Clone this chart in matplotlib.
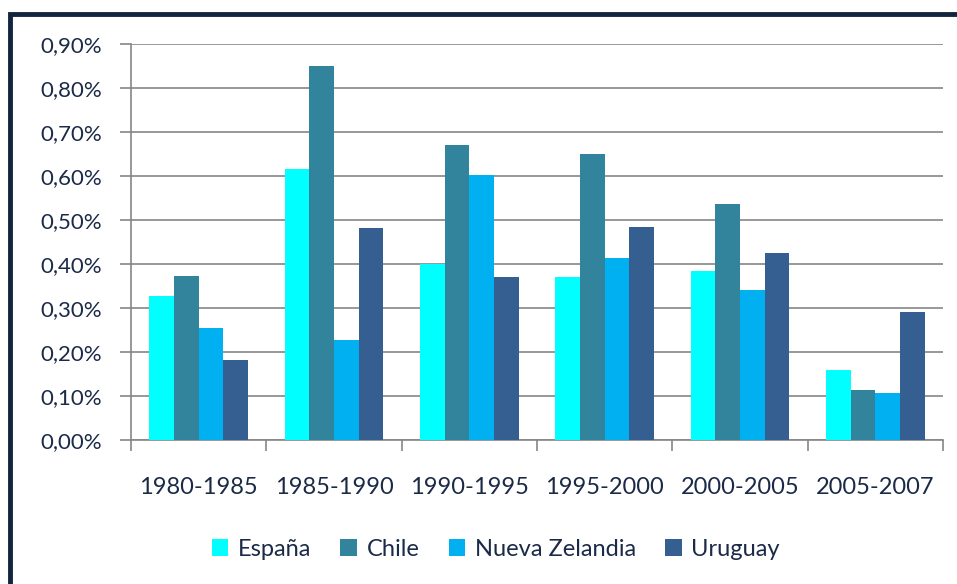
import numpy as np
import matplotlib.pyplot as plt
from matplotlib.patches import Rectangle
from matplotlib.ticker import FuncFormatter

periods = ['1980-1985', '1985-1990', '1990-1995', '1995-2000', '2000-2005', '2005-2007']
espana = [0.327, 0.617, 0.400, 0.370, 0.385, 0.160]
chile = [0.373, 0.850, 0.670, 0.650, 0.537, 0.113]
nueva_zelandia = [0.255, 0.228, 0.603, 0.413, 0.342, 0.107]
uruguay = [0.182, 0.482, 0.370, 0.485, 0.425, 0.290]

series = [('España', espana, '#00FFFF'),
          ('Chile', chile, '#31849B'),
          ('Nueva Zelandia', nueva_zelandia, '#00B0F0'),
          ('Uruguay', uruguay, '#365F91')]

txt = '#1B2A47'
grid = '#868686'
plt.rcParams['font.family'] = ['Lato', 'DejaVu Sans']

fig = plt.figure(figsize=(9.57, 5.84), dpi=100)
W, H = 957, 584
ax = fig.add_axes([131 / W, 1 - 440 / H, (943 - 131) / W, (440 - 44) / H])

x = np.arange(len(periods))
bw = 0.182
for i, (name, vals, col) in enumerate(series):
    ax.bar(x + (i - 1.5) * bw, vals, bw, color=col, label=name, zorder=3)

ax.set_xlim(-0.5, len(periods) - 0.5)
ax.set_ylim(0, 0.9)
ax.set_yticks(np.arange(0, 0.91, 0.1))
ax.yaxis.set_major_formatter(FuncFormatter(lambda v, p: f'{v:.2f}%'.replace('.', ',')))
ax.yaxis.grid(True, color=grid, linewidth=1.2, zorder=0)

ax.set_xticks(x)
ax.set_xticklabels(periods)
ax.set_xticks(np.arange(-0.5, len(periods)), minor=True)
ax.tick_params(axis='x', which='major', length=0, pad=27, labelsize=17, labelcolor=txt)
ax.tick_params(axis='x', which='minor', length=8, width=1.2, color=grid, direction='out')
ax.tick_params(axis='y', length=8, width=1.2, color=grid, labelsize=16, labelcolor=txt, pad=13)

for s in ['top', 'right']:
    ax.spines[s].set_visible(False)
for s in ['left', 'bottom']:
    ax.spines[s].set_color(grid)
    ax.spines[s].set_linewidth(1.2)

fig.legend(loc='center', bbox_to_anchor=(0.518, 1 - 549 / H), ncol=4, frameon=False,
           fontsize=17, labelcolor=txt, handlelength=0.7, handleheight=0.7,
           handletextpad=0.4, columnspacing=1.25)

# outer chart frame (cut off on the right and bottom)
fig.patches.append(Rectangle((10 / W, -0.05), 1.2, 1 - 14 / H + 0.05, transform=fig.transFigure,
                             fill=False, edgecolor='#13243F', linewidth=3.5))

fig.savefig('out.png', dpi=100)
